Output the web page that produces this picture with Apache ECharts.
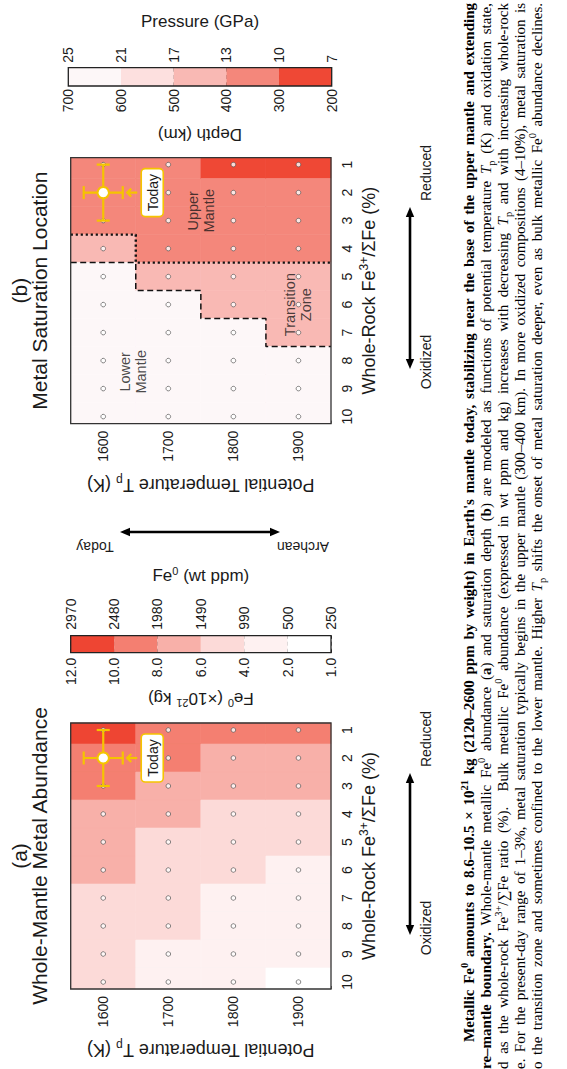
<!DOCTYPE html>
<html><head><meta charset="utf-8">
<script src="https://cdn.jsdelivr.net/npm/echarts@6/dist/echarts.min.js"></script>
<style>
html,body{margin:0;padding:0;background:#fff;overflow:hidden;width:567px;height:1069px;}
#wrap{position:absolute;left:0;top:0;width:1069px;height:567px;transform-origin:0 0;transform:translate(0px,1069px) rotate(-90deg);overflow:hidden;}
#chart{position:absolute;left:0;top:0;width:1069px;height:567px;}
#caption{position:absolute;left:0;top:0;width:1069px;height:567px;font-family:'Liberation Serif','Times New Roman',serif;font-size:15px;color:#000;}
.ln{position:absolute;line-height:17px;text-align:justify;text-align-last:justify;}
sup,sub{font-size:70%;line-height:0;}
</style></head>
<body>
<div id="wrap">
  <div id="chart"></div>
  <div id="caption"></div>
</div>
<script>
// ---------------- data ----------------
const feValues = [1, 2, 3, 4, 5, 6, 7, 8, 9, 10];          // whole-rock Fe3+/ΣFe (%)
const tempValues = [1600, 1700, 1800, 1900];               // potential temperature Tp (K)
const feTickValues = [1, 2, 3, 4, 5, 6, 7, 8, 9, 10];
const tempTickValues = [1600, 1700, 1800, 1900];

// (a) whole-mantle metallic Fe0 (x10^21 kg), one row per Tp, ordered by Fe3+/ΣFe 1..10 %
const abund1600 = [10.5, 9.6, 8.7, 7.6, 6.9, 6.2, 5.6, 5.1, 4.6, 4.2];
const abund1700 = [9.4, 8.4, 7.5, 6.6, 5.9, 5.3, 4.8, 4.3, 3.8, 3.4];
const abund1800 = [8.5, 7.4, 6.4, 5.7, 5.0, 4.3, 3.8, 3.3, 2.9, 2.5];
const abund1900 = [8.2, 7.1, 6.1, 5.3, 4.5, 3.9, 3.3, 2.8, 2.3, 1.9];

// (b) metal saturation depth (km)
const depth1600 = [330, 350, 380, 450, 640, 660, 670, 680, 690, 695];
const depth1700 = [310, 330, 360, 390, 460, 650, 665, 675, 685, 690];
const depth1800 = [260, 320, 350, 385, 440, 480, 640, 660, 675, 685];
const depth1900 = [240, 310, 340, 375, 420, 455, 490, 630, 660, 680];

// colour bars
const abundBreaks = [12, 10, 8, 6, 4, 2, 1];
const abundKgLabels = ['12.0', '10.0', '8.0', '6.0', '4.0', '2.0', '1.0'];
const abundPpmLabels = ['2970', '2480', '1980', '1490', '990', '500', '250'];
const abundColors = ['#ee4533', '#f47f71', '#f8b0a9', '#fcdad8', '#fef1f1', '#ffffff'];
const depthBreaks = [700, 600, 500, 400, 300, 200];
const depthLabels = ['700', '600', '500', '400', '300', '200'];
const pressureLabels = ['25', '21', '17', '13', '10', '7'];
const depthColors = ['#fdf7f8', '#fde0df', '#f9b9b4', '#f4877b', '#ef4835'];

// present-day estimate
const todayFe = 2, todayFeLow = 1, todayFeHigh = 3;
const todayTp = 1600, todayTpLow = 1570, todayTpHigh = 1630;

const upperMantleMaxDepth = 400;   // km, upper mantle / transition zone colour split
const lowerMantleMinDepth = 600;   // km

// ---------------- helpers ----------------
const FONT = "'Liberation Sans', Arial, sans-serif";
const INK = '#1a1a1a';
const GOLD = '#f5c400';
const abundRows = [abund1600, abund1700, abund1800, abund1900];
const depthRows = [depth1600, depth1700, depth1800, depth1900];

function gridData(rows) {
  const out = [];
  rows.forEach((row, i) => row.forEach((v, j) => out.push([feValues[j], tempValues[i], v])));
  return out;
}
const abundData = gridData(abundRows);
const depthData = gridData(depthRows);
const dotData = [];
tempValues.forEach(t => feValues.forEach(f => dotData.push([f, t])));

const feMinor = [];
for (let k = 4; k <= 51; k++) { const v = +(k * 0.2).toFixed(1); if (Math.abs(v - Math.round(v)) > 1e-6) feMinor.push(v); }
const tMinor = [];
for (let v = 1550; v <= 1950; v += 25) if (v % 100 !== 0) tMinor.push(v);

// boundary paths in (b), derived from the depth table
function boundary(test) {
  const pts = [];
  depthRows.forEach((row, i) => {
    let maxFe = 0;
    row.forEach((d, j) => { if (test(d)) maxFe = Math.max(maxFe, feValues[j]); });
    const b = maxFe + 0.5;
    const t0 = i === 0 ? 1550 : (tempValues[i - 1] + tempValues[i]) / 2;
    const t1 = i === tempValues.length - 1 ? 1950 : (tempValues[i] + tempValues[i + 1]) / 2;
    pts.push([b, t0], [b, t1]);
  });
  return pts;
}
const upperLine = boundary(d => d <= upperMantleMaxDepth);
const tzLine = boundary(d => d < lowerMantleMinDepth);

function piecesFrom(breaks, colors) {
  const p = [];
  for (let i = 0; i < colors.length; i++) {
    const a = Math.min(breaks[i], breaks[i + 1]), b = Math.max(breaks[i], breaks[i + 1]);
    p.push({ gt: a, lte: b, color: colors[i] });
  }
  return p;
}

const richBase = {
  t: { fontFamily: FONT, fontSize: 18, color: INK, lineHeight: 22 },
  sup: { fontFamily: FONT, fontSize: 12, color: INK, lineHeight: 22, verticalAlign: 'top' },
  sub: { fontFamily: FONT, fontSize: 12, color: INK, lineHeight: 22, verticalAlign: 'bottom' }
};

// ---------------- layout (unrotated figure, 1069 x 567) ----------------
const panels = [
  { left: 80, top: 70.7, width: 266, height: 260.3 },     // (a)
  { left: 645.4, top: 70.7, width: 266, height: 260.3 }   // (b)
];

const grids = [
  Object.assign({ show: true, borderColor: '#333', borderWidth: 1.3, backgroundColor: 'transparent', z: 10 }, panels[0]),
  Object.assign({ show: true, borderColor: '#333', borderWidth: 1.3, backgroundColor: 'transparent', z: 10 }, panels[1]),
  { left: 416.3, top: 70.7, width: 17, height: 260.3, show: true, borderColor: '#222', borderWidth: 1.3, backgroundColor: 'transparent', z: 10 },
  { left: 983, top: 68.3, width: 18.3, height: 263.4, show: true, borderColor: '#222', borderWidth: 1.3, backgroundColor: 'transparent', z: 10 }
];

const xAxes = [], yAxes = [];
[0, 1].forEach(g => {
  xAxes.push({
    type: 'value', gridIndex: g, min: 0.75, max: 10.25, inverse: true, position: 'bottom',
    axisLine: { show: false }, splitLine: { show: false },
    axisTick: { show: true, inside: true, length: 6, customValues: feTickValues, lineStyle: { color: '#333', width: 1 } },
    axisLabel: { show: true, customValues: feTickValues, margin: 9, fontSize: 14, color: INK, fontFamily: FONT, formatter: v => String(v) },
    name: '{t|Whole-Rock Fe}{sup|3+}{t|/ΣFe (%)}', nameLocation: 'middle', nameGap: 27,
    nameTextStyle: { rich: richBase }
  });
  xAxes.push({
    type: 'value', gridIndex: g, min: 0.75, max: 10.25, inverse: true, position: 'bottom',
    axisLine: { show: false }, splitLine: { show: false }, axisLabel: { show: false },
    axisTick: { show: true, inside: true, length: 3, customValues: feMinor, lineStyle: { color: '#333', width: 1 } }
  });
  yAxes.push({
    type: 'value', gridIndex: g, min: 1550, max: 1950, inverse: true, position: 'left',
    axisLine: { show: false }, splitLine: { show: false },
    axisTick: { show: true, inside: true, length: 6, customValues: tempTickValues, lineStyle: { color: '#333', width: 1 } },
    axisLabel: { show: true, customValues: tempTickValues, margin: 7, fontSize: 14, color: INK, fontFamily: FONT, formatter: v => String(v) },
    name: '{t|Potential Temperature T}{sub|p}{t| (K)}', nameLocation: 'middle', nameRotate: 90, nameGap: 50,
    nameTextStyle: { rich: richBase }
  });
  yAxes.push({
    type: 'value', gridIndex: g, min: 1550, max: 1950, inverse: true, position: 'left',
    axisLine: { show: false }, splitLine: { show: false }, axisLabel: { show: false },
    axisTick: { show: true, inside: true, length: 3, customValues: tMinor, lineStyle: { color: '#333', width: 1 } }
  });
});
// colour-bar axes
const cbRich = {
  t: { fontFamily: FONT, fontSize: 17, color: INK, lineHeight: 20 },
  sup: { fontFamily: FONT, fontSize: 11, color: INK, lineHeight: 20, verticalAlign: 'top' }
};
xAxes.push({ type: 'category', gridIndex: 2, data: ['a'], show: false });
xAxes.push({ type: 'category', gridIndex: 3, data: ['b'], show: false });
function cbAxis(g, pos, labels, n, name, rot, gap, margin, split) {
  return {
    type: 'value', gridIndex: g, min: 0, max: n, interval: 1, inverse: true, position: pos,
    axisLine: { show: false },
    axisTick: { show: true, inside: true, length: 3, lineStyle: { color: '#222' } },
    splitLine: { show: split, lineStyle: { color: '#555', type: [4, 3], width: 0.8 } },
    axisLabel: { formatter: v => labels[v], margin: margin, fontSize: 14, color: INK, fontFamily: FONT },
    name: name, nameLocation: 'middle', nameRotate: rot, nameGap: gap, nameTextStyle: { rich: cbRich }
  };
}
yAxes.push(cbAxis(2, 'left', abundKgLabels, 6, '{t|Fe}{sup|0}{t| (×10}{sup|21}{t| kg)}', 90, 36, 5, true));
yAxes.push(cbAxis(2, 'right', abundPpmLabels, 6, '{t|Fe}{sup|0}{t| (wt ppm)}', -90, 50, 6, false));
yAxes.push(cbAxis(3, 'left', depthLabels, 5, '{t|Depth (km)}', 90, 38, 3, true));
yAxes.push(cbAxis(3, 'right', pressureLabels, 5, '{t|Pressure (GPa)}', -90, 36, 5, false));

// ---------------- series ----------------
function cellSeries(xi, yi, data) {
  return {
    type: 'custom', xAxisIndex: xi, yAxisIndex: yi, data: data, silent: true, z: 1,
    encode: { x: 0, y: 1 },
    renderItem: function (params, api) {
      const f = api.value(0), t = api.value(1);
      const p0 = api.coord([f + 0.5, t - 50]);
      const p1 = api.coord([f - 0.5, t + 50]);
      const r = echarts.graphic.clipRectByRect({
        x: Math.min(p0[0], p1[0]), y: Math.min(p0[1], p1[1]),
        width: Math.abs(p1[0] - p0[0]), height: Math.abs(p1[1] - p0[1])
      }, { x: params.coordSys.x, y: params.coordSys.y, width: params.coordSys.width, height: params.coordSys.height });
      if (!r) return;
      const c = api.visual('color');
      return { type: 'rect', shape: r, style: { fill: c, stroke: c, lineWidth: 0.6 } };
    }
  };
}
function dotSeries(xi, yi) {
  return {
    type: 'scatter', xAxisIndex: xi, yAxisIndex: yi, data: dotData, symbol: 'circle', symbolSize: 4.6, silent: true, z: 4,
    itemStyle: { color: '#ffffff', borderColor: '#555', borderWidth: 0.9 }
  };
}
function todaySeries(xi, yi) {
  return {
    type: 'custom', xAxisIndex: xi, yAxisIndex: yi, silent: true, z: 8,
    data: [[todayFe, todayTp, todayFeLow, todayFeHigh, todayTpLow, todayTpHigh]],
    renderItem: function (params, api) {
      const c = api.coord([api.value(0), api.value(1)]);
      const fl = api.coord([api.value(2), api.value(1)]);
      const fh = api.coord([api.value(3), api.value(1)]);
      const tl = api.coord([api.value(0), api.value(4)]);
      const th = api.coord([api.value(0), api.value(5)]);
      const cap = 6.5;
      const ls = { stroke: GOLD, lineWidth: 2.2, fill: null };
      const L = (x1, y1, x2, y2) => ({ type: 'line', shape: { x1, y1, x2, y2 }, style: ls });
      const cx = c[0], cy = c[1];
      return {
        type: 'group', children: [
          L(fl[0], fl[1], fh[0], fh[1]), L(fl[0], fl[1] - cap, fl[0], fl[1] + cap), L(fh[0], fh[1] - cap, fh[0], fh[1] + cap),
          L(tl[0], tl[1], th[0], th[1]), L(tl[0] - cap, tl[1], tl[0] + cap, tl[1]), L(th[0] - cap, th[1], th[0] + cap, th[1]),
          { type: 'circle', shape: { cx: cx, cy: cy, r: 5.6 }, style: { fill: '#fff', stroke: GOLD, lineWidth: 2 } },
          L(cx, cy + 24, cx, cy + 34),
          { type: 'polyline', shape: { points: [[cx - 4, cy + 28], [cx, cy + 24], [cx + 4, cy + 28]] }, style: ls },
          { type: 'rect', shape: { x: cx - 24, y: cy + 38, width: 48, height: 22, r: 4 }, style: { fill: '#fff', stroke: GOLD, lineWidth: 1.6 } },
          { type: 'text', style: { x: cx, y: cy + 49.5, text: 'Today', fill: INK, font: '14px ' + FONT, align: 'center', verticalAlign: 'middle' } }
        ]
      };
    }
  };
}
function lineSeries(xi, yi, data, type, width) {
  return {
    type: 'line', xAxisIndex: xi, yAxisIndex: yi, data: data, symbol: 'none', silent: true, z: 6,
    lineStyle: { color: '#111', width: width, type: type }, animation: false
  };
}
const regionLabelData = [
  { value: [2.65, 1750], name: 'Upper\nMantle' },
  { value: [8.4, 1646], name: 'Lower\nMantle' },
  { value: [6.0, 1899], name: 'Transition\nZone' }
];

const series = [
  cellSeries(0, 0, abundData),    // 0
  cellSeries(2, 2, depthData),    // 1
  dotSeries(0, 0),
  dotSeries(2, 2),
  lineSeries(2, 2, upperLine, [2.2, 2.8], 2.4),
  lineSeries(2, 2, tzLine, [6, 3.5], 1.5),
  {
    type: 'scatter', xAxisIndex: 2, yAxisIndex: 2, data: regionLabelData, symbolSize: 1, silent: true, z: 7,
    itemStyle: { color: 'rgba(0,0,0,0)' },
    label: { show: true, position: 'inside', formatter: '{b}', color: INK, fontSize: 14.5, lineHeight: 16.5, fontFamily: FONT, align: 'center' }
  },
  todaySeries(0, 0),
  todaySeries(2, 2)
];
abundColors.forEach((c, i) => series.push({
  type: 'bar', xAxisIndex: 4, yAxisIndex: 4, stack: 'cbA', data: [1], barWidth: '100%', silent: true,
  itemStyle: { color: c }
}));
depthColors.forEach((c, i) => series.push({
  type: 'bar', xAxisIndex: 5, yAxisIndex: 6, stack: 'cbB', data: [1], barWidth: '100%', silent: true,
  itemStyle: { color: c }
}));

// ---------------- annotations ----------------
function text(x, y, str, size, rot, extra) {
  return Object.assign({
    type: 'text', x: x, y: y, rotation: rot || 0, silent: true,
    style: { text: str, font: size + 'px ' + FONT, fill: INK, align: 'center', verticalAlign: 'middle' }
  }, extra || {});
}
function dblArrow(x1, y1, x2, y2) {
  const ang = Math.atan2(y2 - y1, x2 - x1);
  const hl = 10, hw = 4.2;
  const head = (px, py, a) => ({
    type: 'polygon', silent: true,
    shape: { points: [[px, py], [px - hl * Math.cos(a) + hw * Math.sin(a), py - hl * Math.sin(a) - hw * Math.cos(a)], [px - hl * Math.cos(a) - hw * Math.sin(a), py - hl * Math.sin(a) + hw * Math.cos(a)]] },
    style: { fill: '#000' }
  });
  return [
    { type: 'line', silent: true, shape: { x1: x1 + 6 * Math.cos(ang), y1: y1 + 6 * Math.sin(ang), x2: x2 - 6 * Math.cos(ang), y2: y2 - 6 * Math.sin(ang) }, style: { stroke: '#000', lineWidth: 2.6 } },
    head(x2, y2, ang), head(x1, y1, ang + Math.PI)
  ];
}
const graphics = [
  text(213, 19.5, '(a)', 21), text(213, 39, 'Whole-Mantle Metal Abundance', 21),
  text(778.4, 19.5, '(b)', 21), text(778.4, 39, 'Metal Saturation Location', 21),
  text(522, 95, 'Today', 14, Math.PI / 2), text(522, 303, 'Archean', 14, Math.PI / 2),
  ...dblArrow(537, 120, 537, 280),
  ...dblArrow(134, 410, 296, 410), text(141, 426, 'Oxidized', 14), text(330, 426, 'Reduced', 14),
  ...dblArrow(700, 410, 862, 410), text(707, 426, 'Oxidized', 14), text(896, 426, 'Reduced', 14)
];

const chart = echarts.init(document.getElementById('chart'), null, { renderer: 'svg', width: 1069, height: 567 });
chart.setOption({
  animation: false,
  backgroundColor: 'transparent',
  textStyle: { fontFamily: FONT },
  grid: grids, xAxis: xAxes, yAxis: yAxes,
  visualMap: [
    { type: 'piecewise', show: false, seriesIndex: 0, dimension: 2, pieces: piecesFrom(abundBreaks, abundColors) },
    { type: 'piecewise', show: false, seriesIndex: 1, dimension: 2, pieces: piecesFrom(depthBreaks, depthColors) }
  ],
  series: series,
  graphic: graphics
});

// ---------------- caption ----------------
const captionLines = [
  { left: 27, html: '<b>Metallic Fe<sup>0</sup> amounts to 8.6–10.5 × 10<sup>21</sup> kg (2120–2600 ppm by weight) in Earth\'s mantle today, stabilizing near the base of the upper mantle and extending</b>' },
  { left: 0, html: '<b>re–mantle boundary.</b> Whole-mantle metallic Fe<sup>0</sup> abundance (<b>a</b>) and saturation depth (<b>b</b>) are modeled as functions of potential temperature <i>T</i><sub>p</sub> (K) and oxidation state,' },
  { left: 0, html: 'd as the whole-rock Fe<sup>3+</sup>/∑Fe ratio (%). &nbsp;Bulk metallic Fe<sup>0</sup> abundance (expressed in wt ppm and kg) increases with decreasing <i>T</i><sub>p</sub> and with increasing whole-rock' },
  { left: 0, html: 'e. For the present-day range of 1–3%, metal saturation typically begins in the upper mantle (300–400 km). In more oxidized compositions (4–10%), metal saturation is' },
  { left: 0, html: 'o the transition zone and sometimes confined to the lower mantle. Higher <i>T</i><sub>p</sub> shifts the onset of metal saturation deeper, even as bulk metallic Fe<sup>0</sup> abundance declines.' }
];
const cap = document.getElementById('caption');
captionLines.forEach((l, i) => {
  const d = document.createElement('div');
  d.className = 'ln';
  d.style.left = l.left + 'px';
  d.style.width = (1066 - l.left) + 'px';
  d.style.top = (461 + i * 17) + 'px';
  d.innerHTML = l.html;
  cap.appendChild(d);
});
</script>
</body></html>
